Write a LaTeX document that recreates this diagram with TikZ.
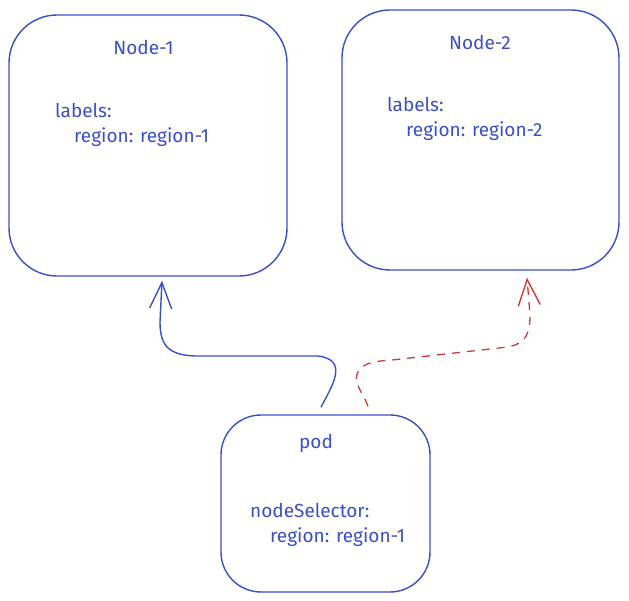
\documentclass[tikz,border=0pt]{standalone}
\usepackage{fontspec}
\setmainfont{Fira Sans}
\usetikzlibrary{arrows.meta}
\definecolor{inkblue}{HTML}{3A4FC6}
\definecolor{inkred}{HTML}{D0393B}
\tikzset{
  box/.style={draw=inkblue, line width=1.4pt, rounded corners=48pt, inner sep=0pt},
  podbox/.style={box, rounded corners=40pt},
  txt/.style={text=inkblue, font=\fontsize{19}{22}\selectfont, inner sep=0pt, anchor=base west},
  ttl/.style={txt, anchor=base},
  barb/.style={-{Straight Barb[length=26pt,width=22pt,line width=1.4pt]}},
  link/.style={barb, draw=inkblue, line width=1.4pt},
  dlink/.style={barb, draw=inkred, line width=1.3pt, dash pattern=on 8pt off 7pt},
}
\begin{document}
\begin{tikzpicture}[x=1pt,y=-1pt]
\useasboundingbox (0,0) rectangle (629,601);
% boxes
\node[box, minimum width=278pt, minimum height=261pt] (n1) at (148,145.5) {};
\node[box, minimum width=277pt, minimum height=260pt] (n2) at (480.5,140) {};
\node[podbox, minimum width=209pt, minimum height=177pt] (pod) at (325.5,503.5) {};
% texts
\node[ttl] (n1t) at (143.5,55) {Node-1};
\node[txt] (n1a) at (55,118) {labels:};
\node[txt] (n1b) at (74,143) {region: region-1};
\node[ttl] (n2t) at (480,50) {Node-2};
\node[txt] (n2a) at (387,112) {labels:};
\node[txt] (n2b) at (406,137) {region: region-2};
\node[ttl] (pt) at (316,448) {pod};
\node[txt] (pa) at (250,517) {nodeSelector:};
\node[txt] (pb) at (270,542) {region: region-1};
% connector anchors
\coordinate (s1) at ([shift={(-4.5,-7)}]pod.north);
\coordinate (e1) at ([shift={(14,4)}]n1.south);
\coordinate (s2) at ([shift={(42.5,-8)}]pod.north);
\coordinate (e2) at ([shift={(46.5,7)}]n2.south);
% blue connector
\draw[link] (s1) .. controls ([shift={(10,-20)}]s1) and (350,360) .. (318,356)
  -- (195,356) .. controls (168,355) and (160,345) .. (160,322) -- (e1);
% red dashed connector
\draw[dlink] (s2) .. controls ([shift={(-5,-14)}]s2) and (352,382) .. (358,372)
  .. controls (363,362) and (378,361) .. (392,360) -- (508,347)
  .. controls (527,343) and (530,332) .. (530,315) -- (e2);
\end{tikzpicture}
\end{document}
